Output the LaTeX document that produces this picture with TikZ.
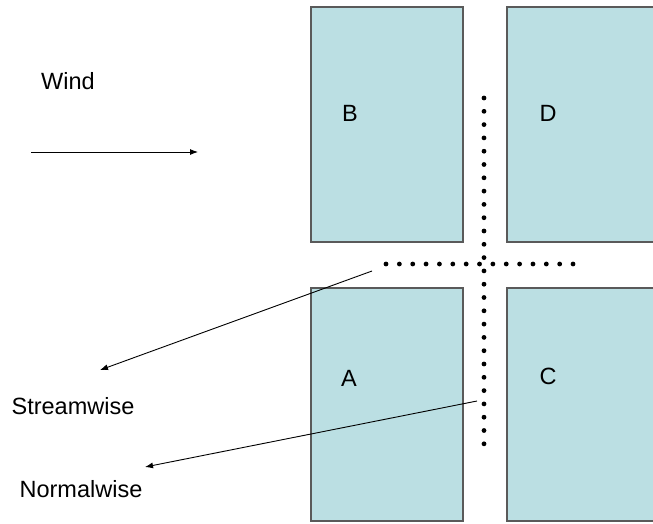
\documentclass[tikz,border=0pt]{standalone}
\usepackage{fontspec}
\setmainfont{Liberation Sans}
\usetikzlibrary{arrows.meta}
\definecolor{blockfill}{RGB}{187,223,227}
\definecolor{blockline}{RGB}{90,90,90}

\begin{document}
\begin{tikzpicture}[x=1pt,y=-1pt,
		block/.style={fill=blockfill,draw=blockline,line width=1.2pt},
		lbl/.style={anchor=base,inner sep=0pt,font=\fontsize{23.5}{28}\selectfont},
		flow/.style={-{Latex[length=8pt,width=6pt]},line width=0.9pt}]
		\useasboundingbox (0,0) rectangle (653,523);
		\clip (0,0) rectangle (653,523);
		
		% buildings
		\draw [block] (311,7) rectangle (463,242);
		\draw [block] (507,7) rectangle (660,242);
		\draw [block] (311,288) rectangle (463,521);
		\draw [block] (507,288) rectangle (660,521);
		\node [lbl] (B) at (350,121) {B};
		\node [lbl] (D) at (548,121) {D};
		\node [lbl] (A) at (349,386) {A};
		\node [lbl] (C) at (548,384) {C};
		
		% dotted cross
		\foreach \y in {0,...,26}
			\fill (484,98+\y*13.3) circle (2.4);
		\foreach \x in {0,...,14}
			\fill (386+\x*13.36,264) circle (2.4);
		
		% wind
		\node [lbl] (wind) at (68,89) {Wind};
		\coordinate (wind tail) at (31,152);
		\coordinate (wind head) at (198,152);
		\draw [flow] (wind tail) -- (wind head);
		
		% directions
		\node [lbl] (stream) at (73,414) {Streamwise};
		\node [lbl] (normal) at (81,497) {Normalwise};
		\coordinate (sw tail) at (372,271);
		\coordinate (sw head) at (100,370);
		\coordinate (nw tail) at (477,401);
		\coordinate (nw head) at (145,467);
		\draw [flow] (sw tail) -- (sw head);
		\draw [flow] (nw tail) -- (nw head);
	\end{tikzpicture}
\end{document}
